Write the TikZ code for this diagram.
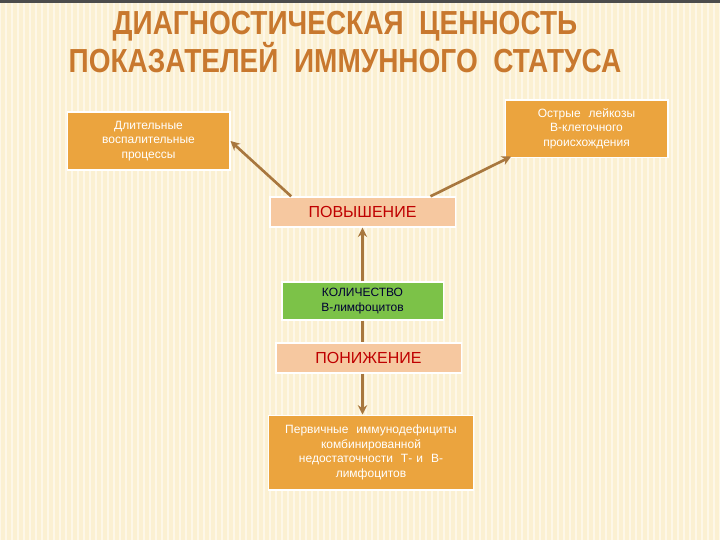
\documentclass[tikz,border=0pt]{standalone}
\usepackage{fontspec}
\setmainfont{Liberation Sans}
\begin{document}
\begin{tikzpicture}[x=0.75pt,y=-0.75pt,
  box/.style={draw=white,line width=1pt,inner sep=2pt,align=center,font=\fontsize{9}{11}\selectfont},
  orbox/.style={box,fill=orng,text=white},
  pbox/.style={box,fill=peach,text=red!75!black,font=\fontsize{12}{14}\selectfont},
  arr/.style={draw=arrc,line width=2pt,-{Stealth[length=7pt,width=7pt]}}]
\usetikzlibrary{arrows.meta}
\definecolor{bg}{HTML}{FBF0D2}
\definecolor{orng}{HTML}{EBA43E}
\definecolor{peach}{HTML}{F6C8A0}
\definecolor{grn}{HTML}{7CC248}
\definecolor{arrc}{HTML}{A8773E}
\definecolor{ttl}{HTML}{C8782E}
\useasboundingbox (0,0) rectangle (720,540);
\fill[bg] (0,0) rectangle (720,540);
\foreach \i in {0,6,...,720} \draw[white,opacity=0.5,line width=1.5pt] (\i,0) -- (\i,540);
\fill[black!70] (0,0) rectangle (720,3);
\node[font=\bfseries\fontsize{25}{25}\selectfont,text=ttl,align=center,xscale=0.84] (title) at (345,42)
 {ДИАГНОСТИЧЕСКАЯ \ ЦЕННОСТЬ\\ПОКАЗАТЕЛЕЙ \ ИММУННОГО \ СТАТУСА};
\node[orbox,minimum width=122pt,minimum height=43.5pt,text width=110pt] (l) at (148.5,141) {Длительные\\воспалительные\\процессы};
\node[orbox,minimum width=122pt,minimum height=43pt,text width=110pt] (r) at (586.5,128.5) {Острые \ лейкозы\\В-клеточного\\происхождения};
\node[pbox,minimum width=139pt,minimum height=22.5pt] (up) at (362.5,212) {ПОВЫШЕНИЕ};
\node[box,fill=grn,text=black!80!blue,minimum width=121pt,minimum height=28.5pt] (q) at (362.5,301) {КОЛИЧЕСТВО\\В-лимфоцитов};
\node[pbox,minimum width=139pt,minimum height=22.5pt] (dn) at (368.5,358) {ПОНИЖЕНИЕ};
\node[orbox,minimum width=151.5pt,minimum height=56pt,text width=150pt] (b) at (371,452.5) {Первичные \ иммунодефициты\\комбинированной\\недостаточности \ Т- и \ В-\\лимфоцитов};
\draw[arr] ([xshift=16.5pt]up.north west) -- (l.east);
\draw[arr] ([xshift=-19pt]up.north east) -- ([xshift=5pt,yshift=1pt]r.south west);
\draw[arr] (q.north) -- (up.south);
\draw[draw=arrc,line width=2pt] (q.south) -- (q.south |- dn.north);
\draw[arr] (q.south |- dn.south) -- (q.south |- b.north);
\end{tikzpicture}
\end{document}
